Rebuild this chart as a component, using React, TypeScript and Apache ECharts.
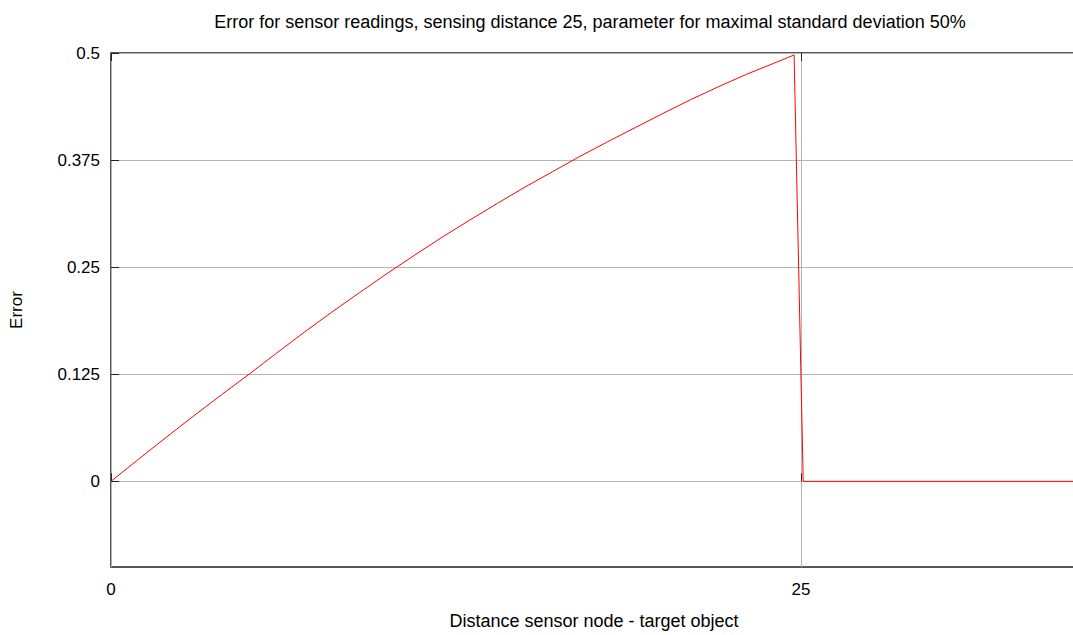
import React, { useEffect, useRef } from "react";
import * as echarts from "echarts";

// Distance between sensor node and target object
const distances = [
  0, 1, 2, 3, 4, 5, 6, 7, 8, 9, 10, 11, 12, 13, 14, 15, 16, 17, 18, 19, 20, 21,
  22, 23, 24, 24.75, 25.08, 35,
];
// Error of the sensor reading at each distance
const errors = [
  0, 0.0259, 0.0514, 0.0765, 0.101, 0.125, 0.1497, 0.174, 0.1975, 0.2202,
  0.2425, 0.264, 0.285, 0.305, 0.3245, 0.3435, 0.3615, 0.3795, 0.3965, 0.413,
  0.4295, 0.4455, 0.4605, 0.4748, 0.4878, 0.4977, 0, 0,
];
const xTicks = [0, 25];
const yTicks = [0, 0.125, 0.25, 0.375, 0.5];

const TITLE =
  "Error for sensor readings, sensing distance 25, parameter for maximal standard deviation 50%";
const FONT = "'Liberation Sans', Arial, sans-serif";

export default function App() {
  const ref = useRef<HTMLDivElement>(null);

  useEffect(() => {
    if (!ref.current) return;
    const chart = echarts.init(ref.current, undefined, { renderer: "svg" });
    const tickStyle = { color: "#222", width: 1 };
    chart.setOption({
      animation: false,
      backgroundColor: "#fff",
      textStyle: { fontFamily: FONT },
      title: {
        text: TITLE,
        left: "center",
        top: 8,
        textStyle: { fontSize: 18, fontWeight: "normal", color: "#000", fontFamily: FONT },
      },
      grid: {
        left: 111,
        top: 53,
        right: 103,
        bottom: 68,
        containLabel: false,
        outerBoundsMode: "none",
        show: true,
        borderColor: "#222",
        borderWidth: 1.5,
        backgroundColor: "transparent",
      },
      xAxis: [
        {
          type: "value",
          min: 0,
          max: 35,
          name: "Distance sensor node - target object",
          nameLocation: "middle",
          nameGap: 45,
          nameTextStyle: { fontSize: 18, color: "#000", fontFamily: FONT },
          axisLine: { show: false },
          axisTick: { show: true, inside: true, length: 8, lineStyle: tickStyle, customValues: xTicks },
          axisLabel: { show: true, margin: 14, fontSize: 17, color: "#000", fontFamily: FONT, customValues: xTicks },
          splitLine: { show: true, lineStyle: { color: "#b4b4b4", width: 1 } },
        },
        {
          type: "value",
          position: "top",
          min: 0,
          max: 35,
          axisLine: { show: false },
          axisTick: { show: true, inside: true, length: 8, lineStyle: tickStyle, customValues: xTicks },
          axisLabel: { show: false },
          splitLine: { show: false },
        },
      ],
      yAxis: {
        type: "value",
        min: -0.1,
        max: 0.5,
        name: "Error",
        nameLocation: "middle",
        nameGap: 86,
        nameTextStyle: { fontSize: 17, color: "#000", fontFamily: FONT },
        axisLine: { show: false },
        axisTick: { show: true, inside: true, length: 8, lineStyle: tickStyle, customValues: yTicks },
        axisLabel: { show: true, margin: 11, fontSize: 17, color: "#000", fontFamily: FONT, customValues: yTicks },
        splitLine: { show: true, lineStyle: { color: "#b4b4b4", width: 1 } },
      },
      series: [
        {
          type: "line",
          xAxisIndex: 0,
          data: distances.map((d, i) => [d, errors[i]]),
          showSymbol: false,
          smooth: false,
          lineStyle: { color: "#ff0000", width: 1 },
          z: 5,
        },
      ],
    });
    return () => chart.dispose();
  }, []);

  return (
    <div style={{ position: "fixed", left: 0, top: 0, width: 1073, height: 635, overflow: "hidden", background: "#fff" }}>
      <div ref={ref} style={{ width: 1180, height: 635 }} />
    </div>
  );
}
